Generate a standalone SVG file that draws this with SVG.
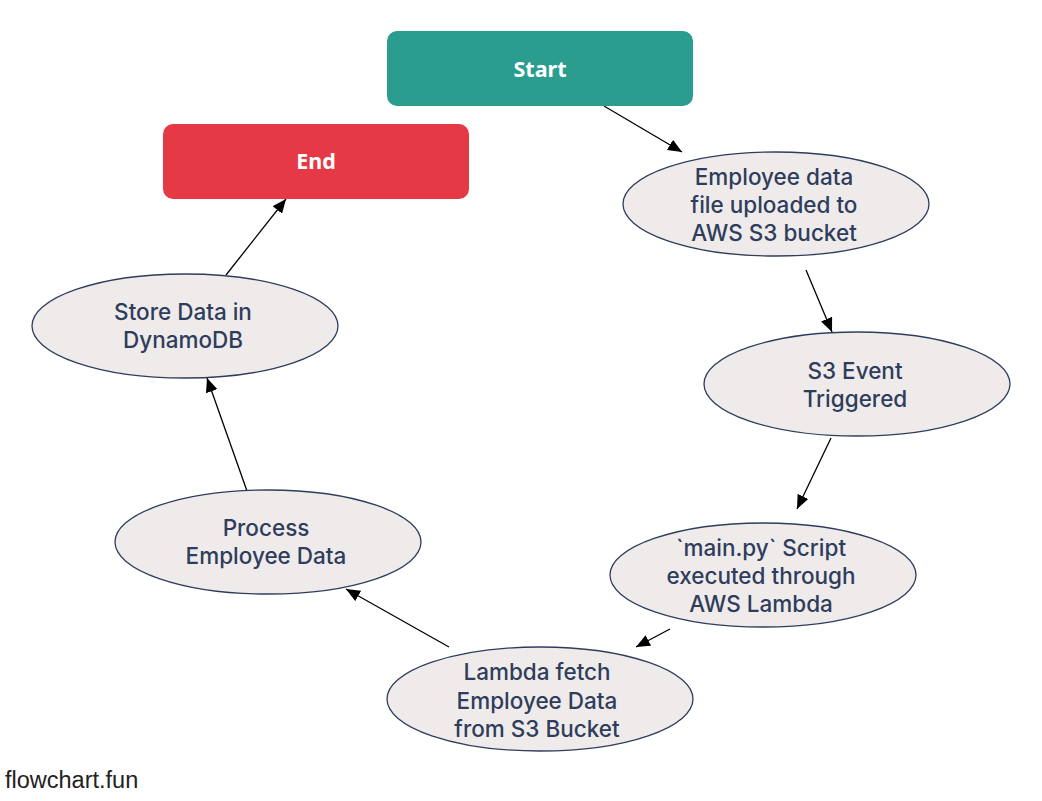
<svg xmlns="http://www.w3.org/2000/svg" width="1042" height="801" viewBox="0 0 1042 801">
<style>
.t{font-family:Inter,"Noto Sans",sans-serif;font-size:22.5px;font-weight:500;fill:#2f3d5c;text-anchor:middle;dominant-baseline:central}
.e{fill:#efebeb;stroke:#2f3d5c;stroke-width:1.3}
.w{font-family:"Noto Sans","Open Sans",sans-serif;font-size:21.5px;font-weight:bold;fill:#ffffff;text-anchor:middle;dominant-baseline:central}
.c{stroke:#000;stroke-width:1.3;fill:none;marker-end:url(#a)}
</style>
<defs>
<marker id="a" viewBox="0 0 14 12" refX="14" refY="6" markerWidth="14" markerHeight="12" markerUnits="userSpaceOnUse" orient="auto">
<path d="M0,0L14,6L0,12z" fill="#000"/>
</marker>
</defs>
<rect width="1042" height="801" fill="#fff"/>
<g id="connectors">
<line class="c" x1="604" y1="106" x2="682" y2="152"/>
<line class="c" x1="806" y1="270" x2="832" y2="332"/>
<line class="c" x1="831" y1="438" x2="797" y2="509"/>
<line class="c" x1="670" y1="629" x2="636" y2="647"/>
<line class="c" x1="449" y1="647" x2="346" y2="589"/>
<line class="c" x1="247" y1="491" x2="207" y2="378"/>
<line class="c" x1="226" y1="275" x2="286" y2="199"/>
</g>
<g id="start">
<rect x="387" y="31" width="306" height="75" rx="10" fill="#2a9d8f"/>
<text class="w" x="540" y="68">Start</text>
</g>
<g id="end">
<rect x="163" y="124" width="306" height="75" rx="10" fill="#e63946"/>
<text class="w" x="316" y="160">End</text>
</g>
<g id="upload">
<ellipse class="e" cx="776" cy="204" rx="153" ry="52"/>
<text class="t" x="774" y="176">Employee data</text>
<text class="t" x="774" y="204">file uploaded to</text>
<text class="t" x="774" y="232">AWS S3 bucket</text>
</g>
<g id="event">
<ellipse class="e" cx="857" cy="384" rx="153" ry="52"/>
<text class="t" x="855" y="370">S3 Event</text>
<text class="t" x="855" y="398">Triggered</text>
</g>
<g id="mainpy">
<ellipse class="e" cx="763" cy="575" rx="153" ry="52"/>
<text class="t" x="761" y="547">`main.py` Script</text>
<text class="t" x="761" y="575">executed through</text>
<text class="t" x="761" y="603">AWS Lambda</text>
</g>
<g id="fetch">
<ellipse class="e" cx="540" cy="699" rx="153" ry="52"/>
<text class="t" x="537" y="671">Lambda fetch</text>
<text class="t" x="537" y="700">Employee Data</text>
<text class="t" x="537" y="728">from S3 Bucket</text>
</g>
<g id="process">
<ellipse class="e" cx="268" cy="542" rx="153" ry="52"/>
<text class="t" x="266" y="527">Process</text>
<text class="t" x="266" y="555">Employee Data</text>
</g>
<g id="store">
<ellipse class="e" cx="185" cy="326" rx="153" ry="52"/>
<text class="t" x="183" y="311">Store Data in</text>
<text class="t" x="183" y="339">DynamoDB</text>
</g>
<text x="5" y="788" font-family="'Liberation Sans',Arial,sans-serif" font-size="23.5" fill="#222">flowchart.fun</text>
</svg>
